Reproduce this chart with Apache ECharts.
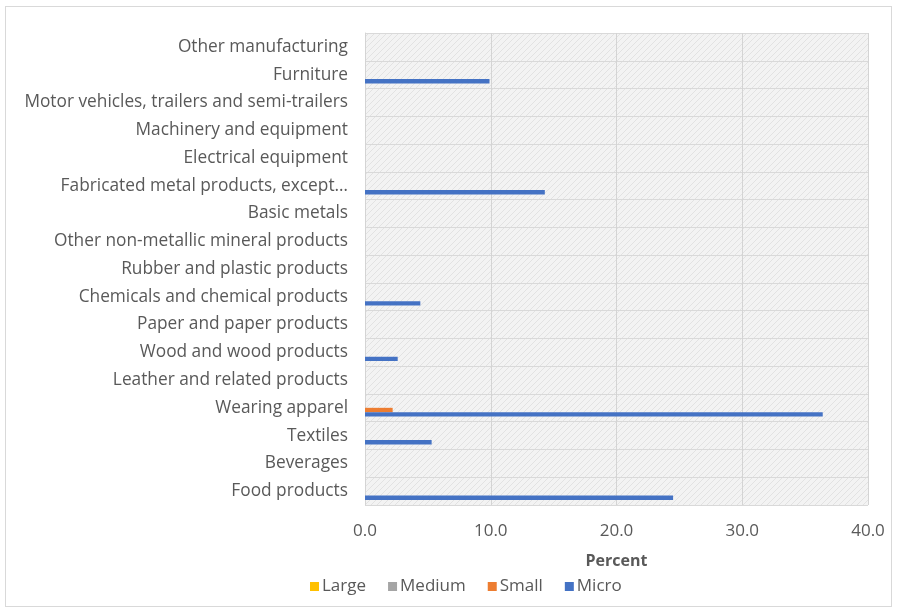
<!DOCTYPE html>
<html>
<head>
<meta charset="utf-8">
<script src="https://cdn.jsdelivr.net/npm/echarts@6/dist/echarts.min.js"></script>
<style>
  html, body { margin: 0; padding: 0; background: #fff; }
  #frame { position: absolute; left: 5px; top: 6px; width: 887px; height: 601px; border: 1px solid #d9d9d9; box-sizing: border-box; }
  #chart { position: absolute; left: 0; top: 0; width: 898px; height: 615px; }
</style>
</head>
<body>
<div id="frame"></div>
<div id="chart"></div>
<script>
// Industries, listed bottom to top as drawn on the category axis
const industries = [
  'Food products',
  'Beverages',
  'Textiles',
  'Wearing apparel',
  'Leather and related products',
  'Wood and wood products',
  'Paper and paper products',
  'Chemicals and chemical products',
  'Rubber and plastic products',
  'Other non-metallic mineral products',
  'Basic metals',
  'Fabricated metal products, except…',
  'Electrical equipment',
  'Machinery and equipment',
  'Motor vehicles, trailers and semi-trailers',
  'Furniture',
  'Other manufacturing'
];

// Share of firms (percent) by size class
const large  = [0, 0, 0, 0, 0, 0, 0, 0, 0, 0, 0, 0, 0, 0, 0, 0, 0];
const medium = [0, 0, 0, 0, 0, 0, 0, 0, 0, 0, 0, 0, 0, 0, 0, 0, 0];
const small  = [0, 0, 0, 2.2, 0, 0, 0, 0, 0, 0, 0, 0, 0, 0, 0, 0, 0];
const micro  = [24.5, 0, 5.3, 36.4, 0, 2.6, 0, 4.4, 0, 0, 0, 14.3, 0, 0, 0, 9.9, 0];

const xTicks = [0, 10, 20, 30, 40];

// Light hatched fill for the plotting area
function hatch() {
  const c = document.createElement('canvas');
  c.width = 6; c.height = 6;
  const g = c.getContext('2d');
  g.fillStyle = '#f3f3f3';
  g.fillRect(0, 0, 6, 6);
  g.strokeStyle = '#e2e2e2';
  g.lineWidth = 1;
  g.beginPath();
  g.moveTo(0, 6); g.lineTo(6, 0);
  g.moveTo(-3, 3); g.lineTo(3, -3);
  g.moveTo(3, 9); g.lineTo(9, 3);
  g.stroke();
  return { image: c, repeat: 'repeat' };
}

const textColor = '#595959';
const font = 'Open Sans';

const chart = echarts.init(document.getElementById('chart'), null, { renderer: 'canvas' });

function bar(name, data, color) {
  return {
    name: name,
    type: 'bar',
    data: data,
    barWidth: 4.4,
    barGap: '0%',
    itemStyle: { color: color },
    emphasis: { disabled: true }
  };
}

chart.setOption({
  animation: false,
  textStyle: { fontFamily: font },
  grid: {
    left: 365, right: 30, top: 33, bottom: 110,
    show: true,
    backgroundColor: hatch(),
    borderWidth: 0
  },
  xAxis: {
    type: 'value',
    min: xTicks[0],
    max: xTicks[xTicks.length - 1],
    interval: 10,
    name: 'Percent',
    nameLocation: 'middle',
    nameGap: 48,
    nameTextStyle: { color: textColor, fontSize: 16, fontWeight: 'bold', fontFamily: font },
    axisLine: { show: false },
    axisTick: { show: false },
    axisLabel: {
      color: textColor, fontSize: 17, fontFamily: font, margin: 18,
      formatter: v => v.toFixed(1)
    },
    splitLine: { show: true, lineStyle: { color: '#d4d4d4', width: 1 } }
  },
  yAxis: {
    type: 'category',
    data: industries,
    axisLine: { show: true, lineStyle: { color: '#d4d4d4' } },
    axisTick: { show: false },
    axisLabel: { color: textColor, fontSize: 17.3, fontFamily: font, margin: 17 },
    splitLine: { show: true, lineStyle: { color: '#d9d9d9', width: 1 } }
  },
  legend: {
    top: 573,
    left: 305,
    itemWidth: 9,
    itemHeight: 9,
    itemGap: 22,
    icon: 'rect',
    textStyle: { color: textColor, fontSize: 17, fontFamily: font, padding: [0, 0, 0, -2] },
    data: ['Large', 'Medium', 'Small', 'Micro']
  },
  series: [
    bar('Large', large, '#ffc000'),
    bar('Medium', medium, '#a5a5a5'),
    bar('Small', small, '#ed7d31'),
    bar('Micro', micro, '#4472c4')
  ]
});
</script>
</body>
</html>
